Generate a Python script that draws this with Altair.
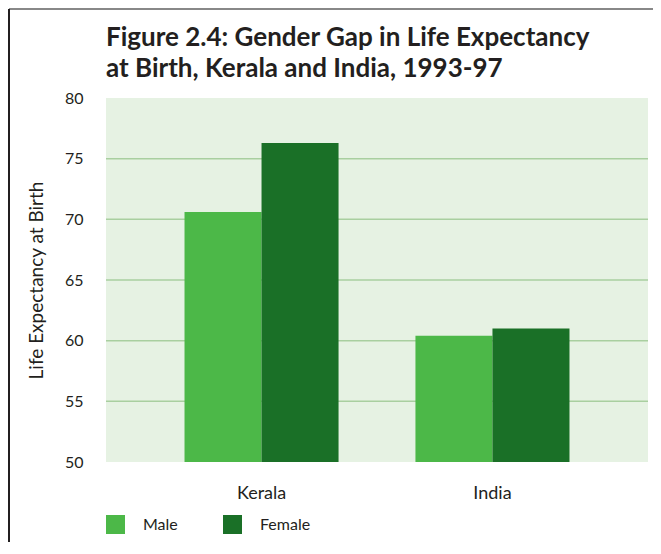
import altair as alt
import pandas as pd

regions = ["Kerala", "India"]
genders = ["Male", "Female"]
male_values = [70.6, 60.4]
female_values = [76.3, 61.0]
y_ticks = [50, 55, 60, 65, 70, 75, 80]
grid_values = [55, 60, 65, 70, 75]
colors = ["#4cb848", "#1a7027"]
title_lines = ["Figure 2.4: Gender Gap in Life Expectancy",
               "at Birth, Kerala and India, 1993-97"]

rows = []
for r, m, f in zip(regions, male_values, female_values):
    rows.append({"Region": r, "Gender": "Male", "Value": m})
    rows.append({"Region": r, "Gender": "Female", "Value": f})
df = pd.DataFrame(rows)
grid_df = pd.DataFrame({"g": grid_values})

FONT = "Lato"
TXT = "#231f20"

yscale = alt.Scale(domain=[50, 80], nice=False, zero=False)
y_axis = alt.Axis(values=y_ticks, title="Life Expectancy at Birth",
                  grid=False, ticks=False, domain=False,
                  labelPadding=23, titlePadding=18)

grid = alt.Chart(grid_df).mark_rule(color="#a9cfa0", strokeWidth=1.5).encode(
    y=alt.Y("g:Q", scale=yscale, axis=y_axis)
)

bars = alt.Chart(df).mark_bar(clip=True).encode(
    x=alt.X("Region:N", sort=regions,
            scale=alt.Scale(paddingInner=0.333, paddingOuter=0.34),
            axis=alt.Axis(title=None, labelAngle=0, ticks=False, domain=False,
                          labelFontSize=18, labelPadding=22)),
    xOffset=alt.XOffset("Gender:N", sort=genders,
                        scale=alt.Scale(paddingInner=0, paddingOuter=0)),
    y=alt.Y("Value:Q", scale=yscale, axis=y_axis),
    y2=alt.datum(50),
    color=alt.Color("Gender:N", sort=genders,
                    scale=alt.Scale(domain=genders, range=colors),
                    legend=alt.Legend(title=None, orient="none", legendX=0,
                                      legendY=417, direction="horizontal",
                                      symbolType="square", symbolSize=361,
                                      symbolStrokeWidth=0, symbolOpacity=1,
                                      labelFont=FONT, labelFontSize=16,
                                      labelColor=TXT, labelOffset=18,
                                      columnPadding=45)),
)

frame_df = pd.DataFrame({"k": [0]})
top_line = alt.Chart(frame_df).mark_rule(color="#888888", strokeWidth=2).encode(
    x=alt.value(-97), x2=alt.value(547), y=alt.value(-89)
)
left_line = alt.Chart(frame_df).mark_rule(color="#231f20", strokeWidth=2).encode(
    x=alt.value(-97), y=alt.value(-89), y2=alt.value(444)
)

chart = alt.layer(grid, bars, top_line, left_line).properties(
    width=542, height=364,
    autosize=alt.AutoSizeParams(type="none"),
    padding={"left": 98, "top": 90, "right": 5, "bottom": 80},
    title=alt.TitleParams(title_lines, anchor="start", frame="group",
                          fontSize=26, font=FONT, fontWeight="bold",
                          lineHeight=31, color=TXT, offset=8, dy=82),
).configure(background="white").configure_view(
    fill="#e6f2e3", strokeWidth=0
).configure_axis(
    labelFont=FONT, labelColor=TXT, labelFontSize=16,
    titleFont=FONT, titleColor=TXT, titleFontSize=19, titleFontWeight="normal"
).configure_axisX(labelFontSize=18)

chart.save("out.html", embed_options={"renderer": "svg", "actions": False})
